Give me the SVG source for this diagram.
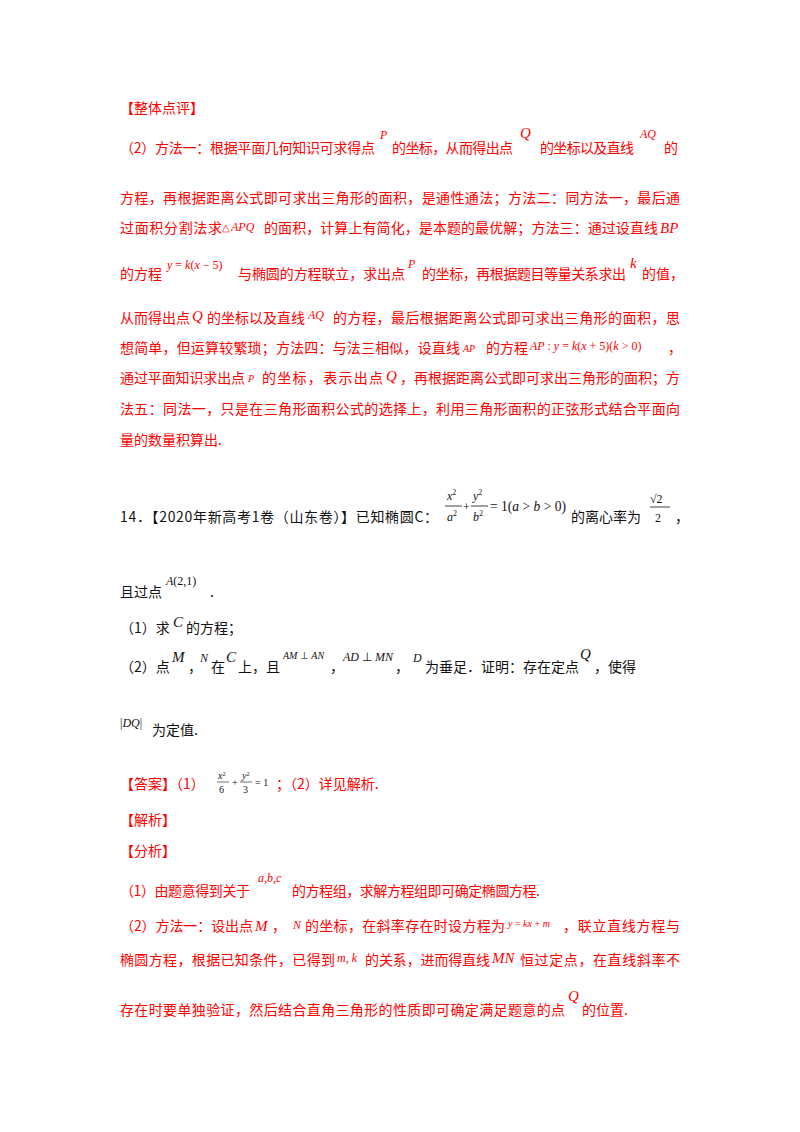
<svg xmlns="http://www.w3.org/2000/svg" width="800" height="1132" viewBox="0 0 800 1132">
<style>
text{font-family:"Noto Sans CJK SC","Noto Sans",sans-serif;font-size:14px;}
.r{fill:#ff0000;}
.k{fill:#111;}
.m{font-family:"Liberation Serif",serif;font-style:italic;font-size:15px;}
.mn{font-family:"Liberation Serif",serif;font-size:15px;}
.s{font-size:12px;}
.t{font-size:10px;}
</style>
<rect width="800" height="1132" fill="#fff"/>
<g id="review" class="r">
<text x="120" y="113">【整体点评】</text>
<text x="120" y="153" textLength="255" lengthAdjust="spacing">（2）方法一：根据平面几何知识可求得点</text>
<text x="380" y="139" class="m s">P</text>
<text x="392" y="153" textLength="121" lengthAdjust="spacing">的坐标，从而得出点</text>
<text x="520" y="138" class="m">Q</text>
<text x="540" y="153" textLength="94" lengthAdjust="spacing">的坐标以及直线</text>
<text x="640" y="138" class="m s">AQ</text>
<text x="664" y="153">的</text>
<text x="120" y="203" textLength="560" lengthAdjust="spacing">方程，再根据距离公式即可求出三角形的面积，是通性通法；方法二：同方法一，最后通</text>
<text x="120" y="233" textLength="102" lengthAdjust="spacing">过面积分割法求</text>
<text x="222" y="231" class="mn t">△</text><text x="231" y="231" class="m s">APQ</text>
<text x="264" y="233" textLength="394" lengthAdjust="spacing">的面积，计算上有简化，是本题的最优解；方法三：通过设直线</text>
<text x="660" y="233" class="m">BP</text>
<text x="120" y="279">的方程</text>
<text x="167" y="269" class="m s">y <tspan font-style="normal">=</tspan> k<tspan font-style="normal">(</tspan>x <tspan font-style="normal">− 5)</tspan></text>
<text x="238" y="279" textLength="167" lengthAdjust="spacing">与椭圆的方程联立，求出点</text>
<text x="408" y="268" class="m s">P</text>
<text x="422" y="279" textLength="204" lengthAdjust="spacing">的坐标，再根据题目等量关系求出</text>
<text x="630" y="268" class="m">k</text>
<text x="642" y="279">的值，</text>
<text x="120" y="323" textLength="70">从而得出点</text>
<text x="192" y="321" class="m">Q</text>
<text x="207" y="323" textLength="98">的坐标以及直线</text>
<text x="308" y="319" class="m s">AQ</text>
<text x="333" y="323" textLength="347" lengthAdjust="spacing">的方程，最后根据距离公式即可求出三角形的面积，思</text>
<text x="120" y="353" textLength="340" lengthAdjust="spacing">想简单，但运算较繁琐；方法四：与法三相似，设直线</text>
<text x="463" y="352" class="m t">AP</text>
<text x="486" y="353">的方程</text>
<text x="530" y="350" class="m s">AP <tspan font-style="normal">:</tspan> y <tspan font-style="normal">=</tspan> k<tspan font-style="normal">(</tspan>x <tspan font-style="normal">+ 5)(</tspan>k <tspan font-style="normal">&gt; 0)</tspan></text>
<text x="668" y="353">，</text>
<text x="120" y="383" textLength="125">通过平面知识求出点</text>
<text x="248" y="382" class="m t">P</text>
<text x="262" y="383" textLength="121">的坐标，表示出点</text>
<text x="386" y="381" class="m">Q</text>
<text x="400" y="383" textLength="280" lengthAdjust="spacing">，再根据距离公式即可求出三角形的面积；方</text>
<text x="120" y="414" textLength="560" lengthAdjust="spacing">法五：同法一，只是在三角形面积公式的选择上，利用三角形面积的正弦形式结合平面向</text>
<text x="120" y="445">量的数量积算出.</text>
</g>
<g id="problem" class="k">
<text x="120" y="522" textLength="318" lengthAdjust="spacing">14．【2020年新高考1卷（山东卷）】已知椭圆C：</text>
<text x="447" y="500" class="m s">x<tspan dy="-5" font-style="normal" font-size="8">2</tspan></text>
<line x1="445" y1="506" x2="462" y2="506" stroke="#111" stroke-width="0.8"/>
<text x="447" y="521" class="m s">a<tspan dy="-5" font-style="normal" font-size="8">2</tspan></text>
<text x="463" y="511" class="mn s">+</text>
<text x="473" y="500" class="m s">y<tspan dy="-5" font-style="normal" font-size="8">2</tspan></text>
<line x1="471" y1="506" x2="488" y2="506" stroke="#111" stroke-width="0.8"/>
<text x="473" y="521" class="m s">b<tspan dy="-5" font-style="normal" font-size="8">2</tspan></text>
<text x="490" y="511" class="mn" font-size="13" textLength="76" lengthAdjust="spacingAndGlyphs">= 1(<tspan font-style="italic">a</tspan> &gt; <tspan font-style="italic">b</tspan> &gt; 0)</text>
<text x="571" y="522" textLength="70">的离心率为</text>
<text x="650" y="503" class="mn s">√2</text>
<line x1="650" y1="507" x2="670" y2="507" stroke="#111" stroke-width="0.8"/>
<text x="655" y="522" class="mn s">2</text>
<text x="675" y="522">，</text>
<text x="120" y="597">且过点</text>
<text x="166" y="585" class="m s">A<tspan font-style="normal">(2,1)</tspan></text>
<text x="210" y="597">.</text>
<text x="120" y="633">（1）求</text>
<text x="173" y="627" class="m">C</text>
<text x="186" y="633">的方程；</text>
<text x="120" y="672">（2）点</text>
<text x="172" y="662" class="m">M</text>
<text x="188" y="672">，</text>
<text x="200" y="662" class="m s">N</text>
<text x="211" y="672">在</text>
<text x="226" y="662" class="m">C</text>
<text x="238" y="672">上，且</text>
<text x="283" y="659" class="m t">AM <tspan font-style="normal">⊥</tspan> AN</text>
<text x="330" y="672">，</text>
<text x="343" y="661" class="m s">AD <tspan font-style="normal">⊥</tspan> MN</text>
<text x="395" y="672">，</text>
<text x="413" y="662" class="m s">D</text>
<text x="425" y="672">为垂足．证明：存在定点</text>
<text x="580" y="659" class="m">Q</text>
<text x="594" y="672">，使得</text>
<text x="120" y="727" class="m s"><tspan font-style="normal">|</tspan>DQ<tspan font-style="normal">|</tspan></text>
<text x="152" y="735">为定值.</text>
</g>
<g id="answer" class="r">
<text x="120" y="789">【答案】（1）</text>
<g class="k">
<text x="218" y="779" class="m t">x<tspan dy="-3" font-size="6" font-style="normal">2</tspan></text>
<line x1="217" y1="782" x2="229" y2="782" stroke="#111" stroke-width="0.6"/>
<text x="219" y="793" class="mn t">6</text>
<text x="232" y="786" class="mn t">+</text>
<text x="242" y="779" class="m t">y<tspan dy="-3" font-size="6" font-style="normal">2</tspan></text>
<line x1="240" y1="782" x2="252" y2="782" stroke="#111" stroke-width="0.6"/>
<text x="243" y="793" class="mn t">3</text>
<text x="255" y="786" class="mn t">= 1</text>
</g>
<text x="276" y="789">；（2）详见解析.</text>
<text x="120" y="825">【解析】</text>
<text x="120" y="856">【分析】</text>
<text x="120" y="896" textLength="130">（1）由题意得到关于</text>
<text x="258" y="882" class="m s">a<tspan font-style="normal">,</tspan>b<tspan font-style="normal">,</tspan>c</text>
<text x="292" y="896" textLength="248">的方程组，求解方程组即可确定椭圆方程.</text>
<text x="120" y="931" textLength="133">（2）方法一：设出点</text>
<text x="255" y="931" class="m">M</text>
<text x="272" y="931">，</text>
<text x="293" y="929" class="m s">N</text>
<text x="305" y="931" textLength="200">的坐标，在斜率存在时设方程为</text>
<text x="508" y="927" class="m t">y <tspan font-style="normal">=</tspan> kx <tspan font-style="normal">+</tspan> m</text>
<text x="563" y="931" textLength="117">，联立直线方程与</text>
<text x="120" y="965" textLength="215">椭圆方程，根据已知条件，已得到</text>
<text x="337" y="962" class="m s">m<tspan font-style="normal">,</tspan> k</text>
<text x="365" y="965" textLength="125">的关系，进而得直线</text>
<text x="492" y="963" class="m">MN</text>
<text x="520" y="965" textLength="160" lengthAdjust="spacing">恒过定点，在直线斜率不</text>
<text x="120" y="1015" textLength="445" lengthAdjust="spacing">存在时要单独验证，然后结合直角三角形的性质即可确定满足题意的点</text>
<text x="568" y="1001" class="m">Q</text>
<text x="582" y="1015">的位置.</text>
</g>
</svg>
